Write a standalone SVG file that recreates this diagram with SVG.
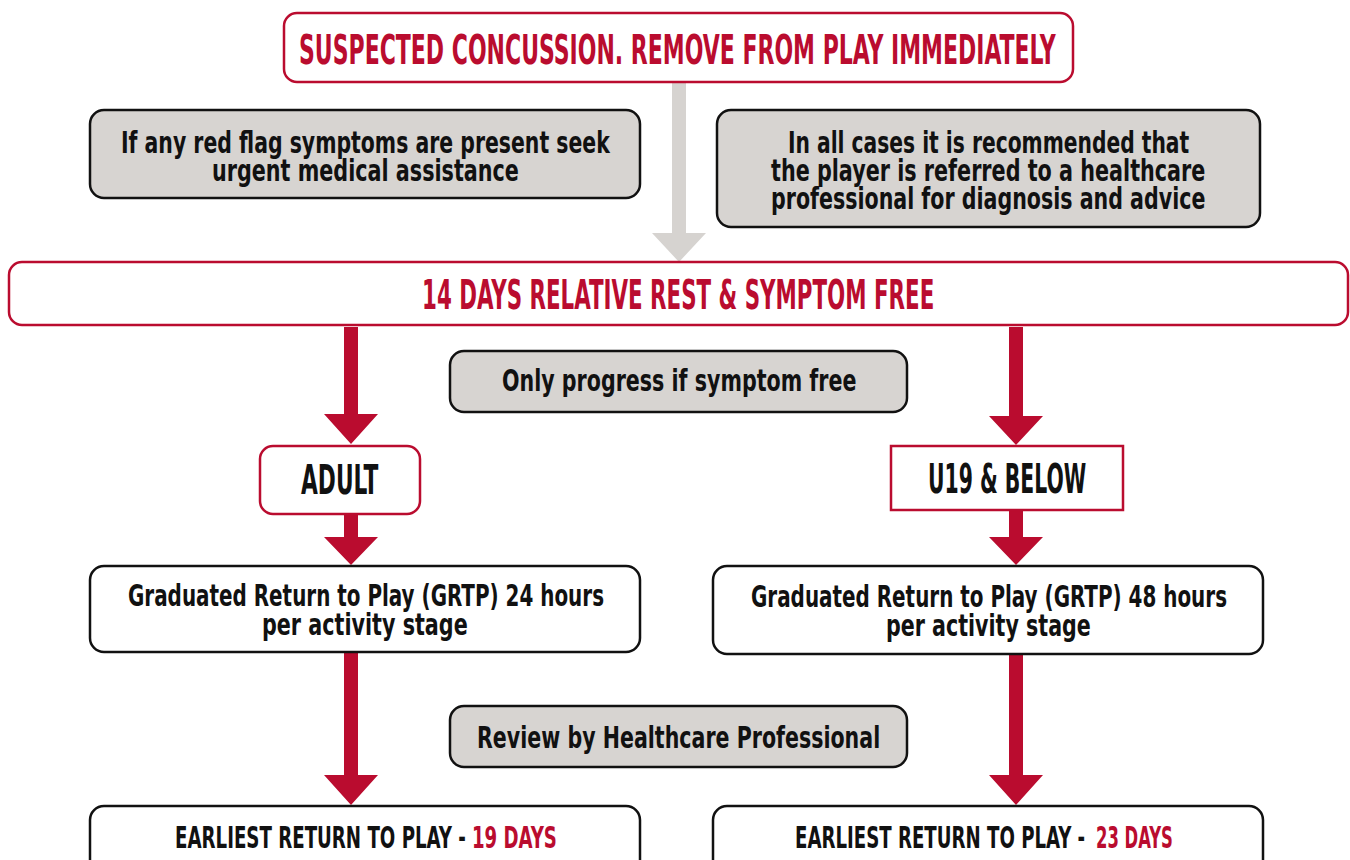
<svg xmlns="http://www.w3.org/2000/svg" width="1350" height="860" viewBox="0 0 1350 860">
<style>
text{font-family:"Liberation Sans Narrow","DejaVu Sans Condensed","Liberation Sans",sans-serif;font-weight:bold;text-anchor:start}
.redbox{fill:#fff;stroke:#BA0C2F;stroke-width:2.5}
.blackbox{fill:#fff;stroke:#111;stroke-width:2.5}
.greybox{fill:#D7D4D1;stroke:#111;stroke-width:2.5}
.red{fill:#BA0C2F}
.blk{fill:#111}
.arrow{fill:#BA0C2F}
.garrow{fill:#D6D3D0}
.big{font-size:41px}
.mid{font-size:30px}
.ml{font-size:27px}
</style>
<rect width="1350" height="860" fill="#fff"/>
<g id="connectors">
<polygon class="garrow" points="672,82 686,82 686,233 706,233 679,262 652,233 672,233"/>
<polygon class="arrow" points="344,327 358,327 358,414 378,414 351,444 324,414 344,414"/>
<polygon class="arrow" points="344,515 358,515 358,537 378,537 351,565 324,537 344,537"/>
<polygon class="arrow" points="344,653 358,653 358,775 378,775 351,805 324,775 344,775"/>
<polygon class="arrow" points="1009,327 1023,327 1023,416 1043,416 1016,445 989,416 1009,416"/>
<polygon class="arrow" points="1009,511 1023,511 1023,537 1043,537 1016,565 989,537 1009,537"/>
<polygon class="arrow" points="1009,655 1023,655 1023,775 1043,775 1016,805 989,775 1009,775"/>
</g>
<g id="suspected">
<rect class="redbox" x="284" y="13" width="789" height="69" rx="13"/>
<text class="red big" transform="translate(299,64) scale(0.75,1)" textLength="1009" lengthAdjust="spacingAndGlyphs">SUSPECTED CONCUSSION. REMOVE FROM PLAY IMMEDIATELY</text>
</g>
<g id="redflag">
<rect class="greybox" x="90" y="110" width="550" height="88" rx="14"/>
<text class="blk ml" transform="translate(121,153) scale(0.85,1.1)" textLength="575" lengthAdjust="spacingAndGlyphs">If any red flag symptoms are present seek</text>
<text class="blk ml" transform="translate(212,181) scale(0.85,1.1)" textLength="361" lengthAdjust="spacingAndGlyphs">urgent medical assistance</text>
</g>
<g id="referral">
<rect class="greybox" x="717" y="110" width="543" height="117" rx="14"/>
<text class="blk ml" transform="translate(788,153) scale(0.85,1.1)" textLength="472" lengthAdjust="spacingAndGlyphs">In all cases it is recommended that</text>
<text class="blk ml" transform="translate(771,181) scale(0.85,1.1)" textLength="511" lengthAdjust="spacingAndGlyphs">the player is referred to a healthcare</text>
<text class="blk ml" transform="translate(771,209) scale(0.85,1.1)" textLength="511" lengthAdjust="spacingAndGlyphs">professional for diagnosis and advice</text>
</g>
<g id="rest">
<rect class="redbox" x="9" y="262" width="1339" height="63" rx="13"/>
<text class="red big" transform="translate(422,309) scale(0.75,1)" textLength="683" lengthAdjust="spacingAndGlyphs">14 DAYS RELATIVE REST &amp; SYMPTOM FREE</text>
</g>
<g id="progress">
<rect class="greybox" x="450" y="351" width="457" height="61" rx="14"/>
<text class="blk mid" transform="translate(502,391) scale(0.8,1)" textLength="443" lengthAdjust="spacingAndGlyphs">Only progress if symptom free</text>
</g>
<g id="adult">
<rect class="redbox" x="260" y="446" width="160" height="68" rx="13"/>
<text class="blk big" transform="translate(301,494) scale(0.75,1)" textLength="103" lengthAdjust="spacingAndGlyphs">ADULT</text>
</g>
<g id="u19">
<rect class="redbox" x="891" y="446" width="232" height="64"/>
<text class="blk big" transform="translate(928,493) scale(0.75,1)" textLength="211" lengthAdjust="spacingAndGlyphs">U19 &amp; BELOW</text>
</g>
<g id="grtp-adult">
<rect class="blackbox" x="90" y="566" width="550" height="86" rx="14"/>
<text class="blk ml" transform="translate(128,606) scale(0.85,1.1)" textLength="560" lengthAdjust="spacingAndGlyphs">Graduated Return to Play (GRTP) 24 hours</text>
<text class="blk ml" transform="translate(262,635) scale(0.85,1.1)" textLength="242" lengthAdjust="spacingAndGlyphs">per activity stage</text>
</g>
<g id="grtp-u19">
<rect class="blackbox" x="713" y="566" width="550" height="88" rx="14"/>
<text class="blk ml" transform="translate(751,607) scale(0.85,1.1)" textLength="560" lengthAdjust="spacingAndGlyphs">Graduated Return to Play (GRTP) 48 hours</text>
<text class="blk ml" transform="translate(886,636) scale(0.85,1.1)" textLength="241" lengthAdjust="spacingAndGlyphs">per activity stage</text>
</g>
<g id="review">
<rect class="greybox" x="450" y="706" width="457" height="61" rx="14"/>
<text class="blk mid" transform="translate(477,748) scale(0.8,1)" textLength="504" lengthAdjust="spacingAndGlyphs">Review by Healthcare Professional</text>
</g>
<g id="return-adult">
<rect class="blackbox" x="90" y="806" width="550" height="70" rx="14"/>
<text class="blk mid" transform="translate(175,848) scale(0.62,1)" textLength="469" lengthAdjust="spacingAndGlyphs">EARLIEST RETURN TO PLAY -</text>
<text class="red mid" transform="translate(472,848) scale(0.62,1)" textLength="137" lengthAdjust="spacingAndGlyphs">19 DAYS</text>
</g>
<g id="return-u19">
<rect class="blackbox" x="713" y="806" width="550" height="70" rx="14"/>
<text class="blk mid" transform="translate(795,848) scale(0.62,1)" textLength="468" lengthAdjust="spacingAndGlyphs">EARLIEST RETURN TO PLAY -</text>
<text class="red mid" transform="translate(1096,848) scale(0.62,1)" textLength="124" lengthAdjust="spacingAndGlyphs">23 DAYS</text>
</g>
</svg>
